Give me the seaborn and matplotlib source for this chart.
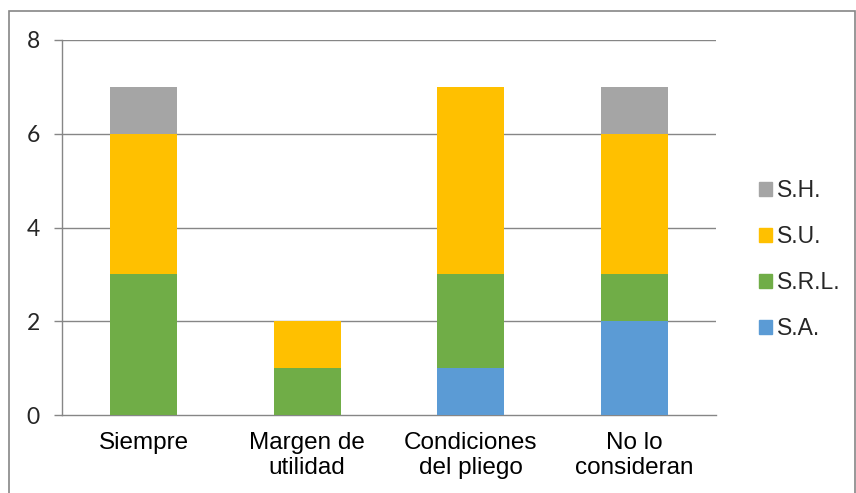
import matplotlib
matplotlib.use("Agg")
import matplotlib.pyplot as plt
import matplotlib.patches as mpatches
import numpy as np
import pandas as pd
import seaborn as sns

categories = ["Siempre", "Margen de\nutilidad", "Condiciones\ndel pliego", "No lo\nconsideran"]
series_names = ["S.A.", "S.R.L.", "S.U.", "S.H."]
sa = [0, 0, 1, 2]
srl = [3, 1, 2, 1]
su = [3, 1, 4, 3]
sh = [1, 0, 0, 1]
colors = {"S.A.": "#5B9BD5", "S.R.L.": "#70AD47", "S.U.": "#FFC000", "S.H.": "#A5A5A5"}
y_ticks = [0, 2, 4, 6, 8]

sns.set_theme(style="white")
plt.rcParams["font.family"] = ["Liberation Sans", "DejaVu Sans"]

fig = plt.figure(figsize=(8.56, 4.93), dpi=100)
ax = fig.add_axes([62 / 856, 1 - 415 / 493, (716 - 62) / 856, (415 - 40) / 493])

df = pd.DataFrame({"cat": categories, "S.A.": sa, "S.R.L.": srl, "S.U.": su, "S.H.": sh})
bottom = np.zeros(len(categories))
for name in series_names:
    sns.barplot(data=df, x="cat", y=name, color=colors[name], width=0.41,
                bottom=bottom, ax=ax, saturation=1, zorder=3, linewidth=0)
    bottom = bottom + df[name].to_numpy()

grid_col = "#868686"
ax.set_ylim(0, 8)
ax.set_xlim(-0.5, len(categories) - 0.5)
ax.set_yticks(y_ticks)
ax.set_yticklabels([str(v) for v in y_ticks], fontfamily=["Lato", "DejaVu Sans"], fontsize=16.5)
for v in y_ticks[1:]:
    ax.axhline(v, color=grid_col, lw=1.0, zorder=1)
ax.set_xticks(range(len(categories)))
ax.set_xticklabels(categories, fontsize=17.5, linespacing=1.2)
ax.set_xticks(np.arange(-0.5, len(categories), 1.0), minor=True)
ax.tick_params(axis="x", which="major", length=0, pad=12, colors="black")
ax.tick_params(axis="x", which="minor", length=6, width=1, color=grid_col, direction="out")
ax.tick_params(axis="y", which="major", length=6, width=1, color=grid_col, direction="out", pad=10,
               left=True)
ax.set_xlabel("")
ax.set_ylabel("")
for side in ["top", "right"]:
    ax.spines[side].set_visible(False)
for side in ["left", "bottom"]:
    ax.spines[side].set_color(grid_col)
    ax.spines[side].set_linewidth(1.0)

handles = [mpatches.Patch(color=colors[n], label=n) for n in reversed(series_names)]
fig.legend(handles=handles, loc="upper left", bbox_to_anchor=(759 / 856, 1 - 179 / 493),
           frameon=False, fontsize=16.5, handlelength=0.55, handleheight=0.55,
           handletextpad=0.25, labelspacing=1.0, borderaxespad=0, borderpad=0)

fig.patches.append(mpatches.Rectangle((9 / 856, -0.01), 0.999 - 9 / 856, 1 - 11 / 493 + 0.01,
                                      transform=fig.transFigure, fill=False,
                                      edgecolor=grid_col, lw=1.2))

fig.savefig("out.png", dpi=100)
